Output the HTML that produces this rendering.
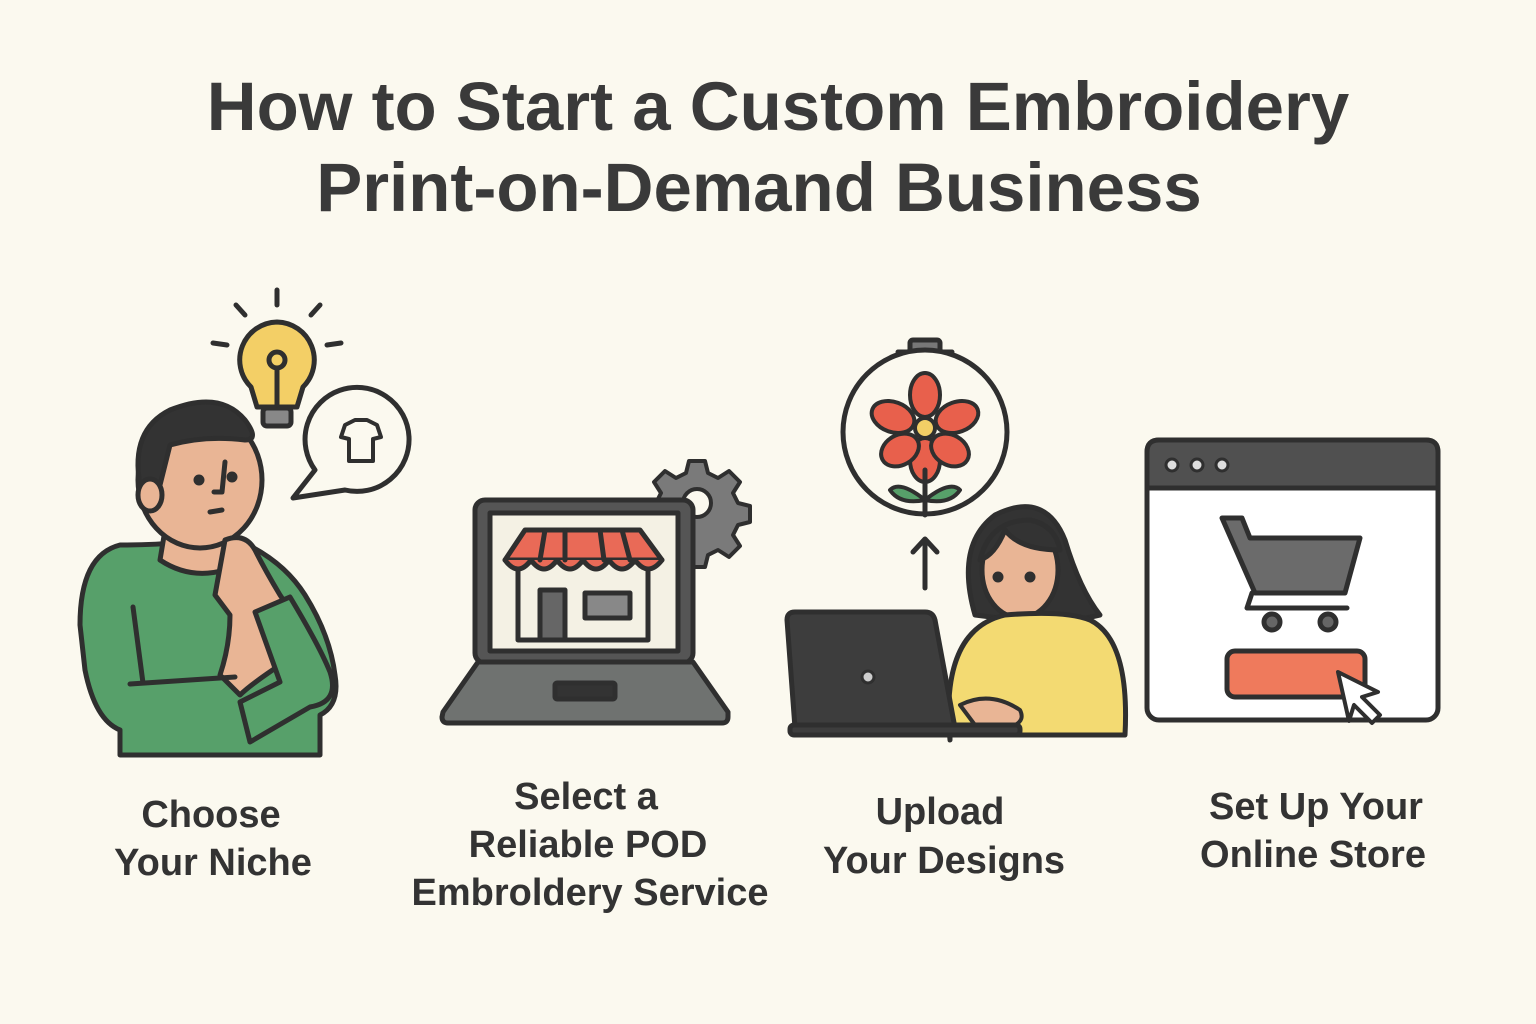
<!DOCTYPE html>
<html><head><meta charset="utf-8"><style>
html,body{margin:0;padding:0;background:#fbf9ef;}
svg{display:block}
text{font-family:"Liberation Sans",sans-serif;fill:#333;}
.t{font-size:69px;font-weight:bold;fill:#3a3a3a;}
.l{font-size:38px;font-weight:bold;fill:#333;}
</style></head><body>
<svg width="1536" height="1024" viewBox="0 0 1536 1024" xmlns="http://www.w3.org/2000/svg">
<rect width="1536" height="1024" fill="#fbf9ef"/>
<text class="t" x="778" y="130" text-anchor="middle">How to Start a Custom Embroidery</text>
<text class="t" x="759" y="211" text-anchor="middle">Print-on-Demand Business</text>

<g stroke="#2f2f2f" stroke-width="5" stroke-linecap="round" stroke-linejoin="round">
<line x1="277" y1="290" x2="277" y2="305"/><line x1="236" y1="305" x2="245" y2="315"/><line x1="320" y1="305" x2="311" y2="315"/>
<line x1="213" y1="343" x2="227" y2="345"/><line x1="327" y1="345" x2="341" y2="343"/>
<path d="M277 322 a38 38 0 0 1 26 65 l-6 20 h-40 l-6 -20 a38 38 0 0 1 26 -65z" fill="#f3cf66"/>
<rect x="263" y="408" width="28" height="18" rx="4" fill="#888"/>
<circle cx="277" cy="360" r="8" fill="none"/><line x1="277" y1="368" x2="277" y2="405"/>
<path d="M315 470 a52 52 0 1 1 30 20 l-52 8 z" fill="#fbf9ef"/>
<path d="M345 425 l10 -5 h12 l10 5 l4 12 l-8 2 v22 h-24 v-22 l-8 -2z" fill="none" stroke-width="4"/>
<path d="M120 545 q-40 10 -40 80 l5 45 q10 50 35 60 v25 h200 v-40 q20 -10 15 -40 q-5 -40 -30 -80 q-25 -40 -80 -60 q-40 10 -105 10z" fill="#57a06a"/>
<path d="M165 530 l-5 30 q30 20 65 10 l10 -30z" fill="#e9b595"/>
<ellipse cx="200" cy="480" rx="62" ry="68" fill="#e9b595"/>
<path d="M140 485 q-10 -55 30 -75 q50 -20 75 10 q15 20 0 20 q-40 -5 -75 5 l-10 40z" fill="#333"/>
<ellipse cx="150" cy="495" rx="12" ry="16" fill="#e9b595"/>
<circle cx="199" cy="480" r="3" fill="#333"/><circle cx="232" cy="477" r="3" fill="#333"/>
<path d="M225 462 l-3 30 h-8" fill="none"/><line x1="210" y1="512" x2="222" y2="510"/>
<path d="M225 540 q20 -8 30 10 q10 20 25 45 l20 30 l-20 40 q-30 20 -40 30 l-20 -20 q10 -30 10 -60 l-15 -20z" fill="#e9b595"/>
<path d="M255 612 l35 -15 q30 50 40 75 q10 30 -20 35 l-60 35 l-10 -40 l40 -20z" fill="#57a06a"/>
<line x1="133" y1="607" x2="143" y2="683"/><line x1="130" y1="684" x2="235" y2="677"/>
<g transform="translate(697,503)"><path d="M-8 -42 h16 l3 12 l10 5 l11 -7 l11 11 l-7 11 l5 10 l12 3 v16 l-12 3 l-5 10 l7 11 l-11 11 l-11 -7 l-10 5 l-3 12 h-16 l-3 -12 l-10 -5 l-11 7 l-11 -11 l7 -11 l-5 -10 l-12 -3 v-16 l12 -3 l5 -10 l-7 -11 l11 -11 l11 7 l10 -5z" fill="#7a7a7a" stroke-width="4"/><circle r="14" fill="#fbf9ef" stroke-width="4"/></g>
<rect x="475" y="500" width="218" height="163" rx="10" fill="#555"/>
<rect x="490" y="513" width="188" height="138" fill="#f4f1e4"/>
<path d="M443 712 l35 -50 h215 l35 50 v5 q0 6 -6 6 h-274 q-6 0 -6 -6z" fill="#6f7270"/>
<rect x="555" y="683" width="60" height="16" rx="2" fill="#333"/>
<rect x="518" y="560" width="130" height="80" fill="#f4f1e4"/>
<rect x="540" y="590" width="25" height="50" fill="#666"/><rect x="585" y="593" width="45" height="25" fill="#888"/>
<path d="M505 560 l20 -30 h115 l22 30 z" fill="#e96a57"/>
<path d="M505 560 q13 18 26 0 q13 18 26 0 q13 18 26 0 q13 18 26 0 q13 18 26 0 q13 18 27 0" fill="#e96a57"/>
<line x1="545" y1="530" x2="540" y2="560"/><line x1="565" y1="530" x2="565" y2="560"/><line x1="600" y1="530" x2="604" y2="560"/><line x1="622" y1="530" x2="630" y2="560"/>
<rect x="910" y="340" width="30" height="14" rx="3" fill="#777"/><line x1="898" y1="352" x2="952" y2="352"/>
<circle cx="925" cy="432" r="82" fill="#fbf9ef"/>
<g fill="#e8604c" stroke-width="4">
<ellipse cx="925" cy="395" rx="15" ry="22"/><ellipse cx="925" cy="460" rx="15" ry="22"/>
<ellipse cx="893" cy="417" rx="22" ry="15" transform="rotate(20 893 417)"/><ellipse cx="957" cy="417" rx="22" ry="15" transform="rotate(-20 957 417)"/>
<ellipse cx="900" cy="450" rx="20" ry="15" transform="rotate(-30 900 450)"/><ellipse cx="950" cy="450" rx="20" ry="15" transform="rotate(30 950 450)"/>
</g>
<circle cx="925" cy="428" r="10" fill="#f3cf66" stroke-width="4"/>
<line x1="925" y1="470" x2="925" y2="515"/>
<path d="M925 500 q-25 -20 -35 -10 q10 15 35 10z M925 500 q25 -20 35 -10 q-10 15 -35 10z" fill="#57a06a" stroke-width="4"/>
<line x1="925" y1="588" x2="925" y2="540"/><path d="M913 552 l12 -13 l12 13" fill="none"/>
<path d="M975 615 q-20 -70 20 -100 q50 -25 70 25 q15 50 35 75 l-45 10z" fill="#333"/>
<ellipse cx="1020" cy="570" rx="38" ry="48" fill="#e9b595"/>
<path d="M980 560 q10 -40 50 -40 q25 5 30 30 q-40 0 -55 -20 q-10 25 -25 30z" fill="#333"/>
<circle cx="998" cy="577" r="3" fill="#333"/><circle cx="1030" cy="577" r="3" fill="#333"/>
<path d="M950 740 q-10 -110 55 -125 q60 -5 85 5 q40 20 35 115 h-175z" fill="#f3da72"/>
<path d="M960 705 q30 -15 60 5 q5 10 -5 15 h-40z" fill="#e9b595" stroke-width="4"/>
<path d="M787 620 q0 -8 8 -8 h130 q8 0 10 8 l20 108 h-160z" fill="#3d3d3d"/>
<rect x="790" y="725" width="230" height="10" rx="4" fill="#3d3d3d"/>
<circle cx="868" cy="677" r="6" fill="#ccc" stroke-width="3"/>
<rect x="1147" y="440" width="291" height="280" rx="12" fill="#fff"/>
<path d="M1147 488 v-36 q0 -12 12 -12 h267 q12 0 12 12 v36z" fill="#505050"/>
<circle cx="1172" cy="465" r="6" fill="#ddd" stroke-width="3"/><circle cx="1197" cy="465" r="6" fill="#ddd" stroke-width="3"/><circle cx="1222" cy="465" r="6" fill="#ddd" stroke-width="3"/>
<path d="M1222 518 h20 l8 20 h110 l-15 55 h-90 z" fill="#6b6b6b"/>
<path d="M1252 593 l-5 15 h100" fill="none"/>
<circle cx="1272" cy="622" r="8" fill="#666"/><circle cx="1328" cy="622" r="8" fill="#666"/>
<rect x="1227" y="651" width="138" height="46" rx="8" fill="#ef7a5c"/>
<path d="M1338 672 l40 20 l-16 5 l18 18 l-8 8 l-18 -18 l-5 16 z" fill="#fff" stroke-width="4"/>
</g>

<text class="l" x="211" y="827" text-anchor="middle">Choose</text>
<text class="l" x="213" y="875" text-anchor="middle">Your Niche</text>
<text class="l" x="586" y="809" text-anchor="middle">Select a</text>
<text class="l" x="588" y="857" text-anchor="middle">Reliable POD</text>
<text class="l" x="590" y="905" text-anchor="middle">Embroldery Service</text>
<text class="l" x="940" y="824" text-anchor="middle">Upload</text>
<text class="l" x="944" y="873" text-anchor="middle">Your Designs</text>
<text class="l" x="1316" y="819" text-anchor="middle">Set Up Your</text>
<text class="l" x="1313" y="867" text-anchor="middle">Online Store</text>
</svg>
</body></html>
